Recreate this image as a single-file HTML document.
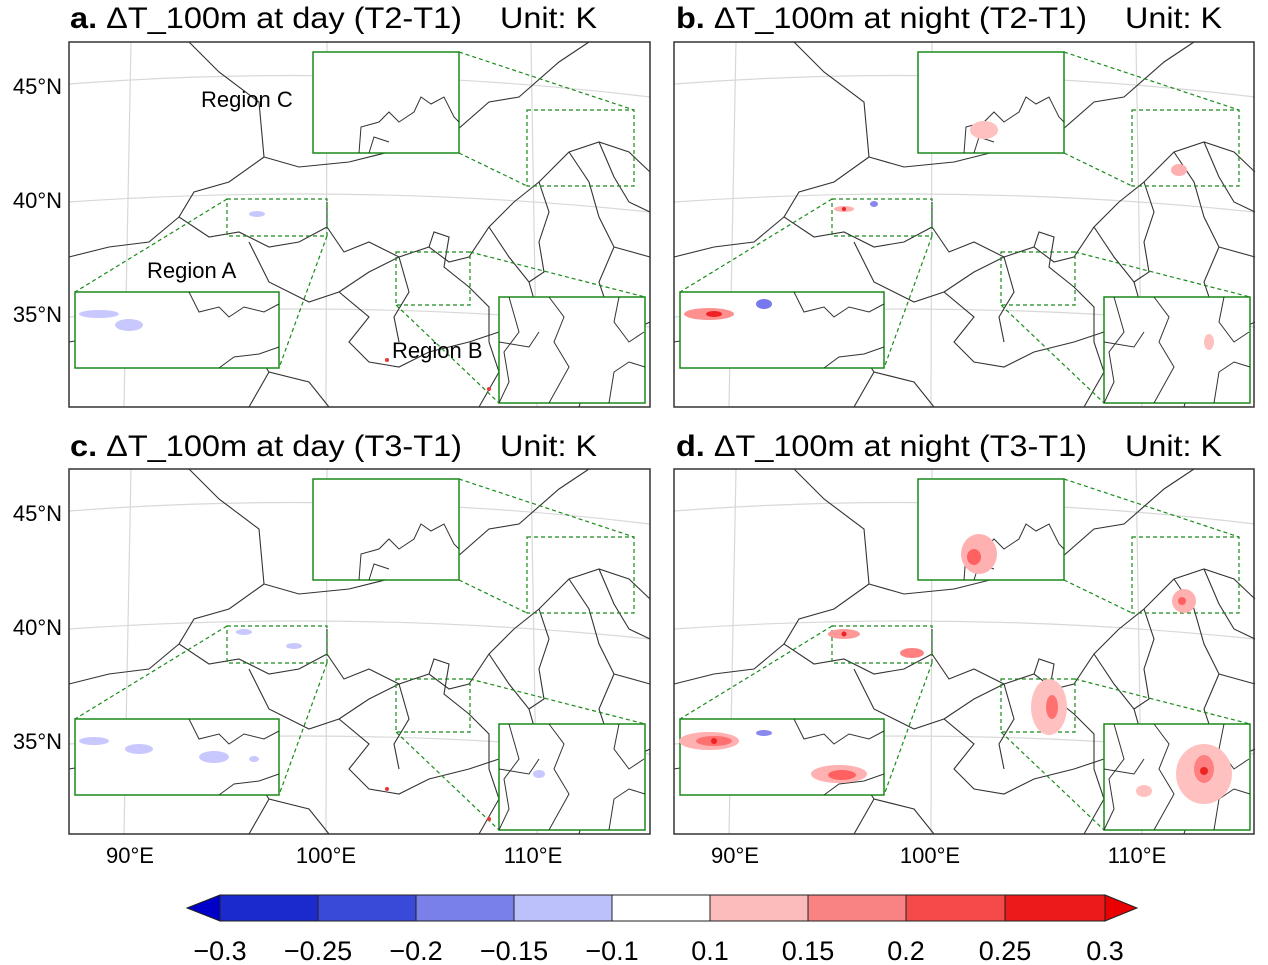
<!DOCTYPE html>
<html><head><meta charset="utf-8"><style>
html,body{margin:0;padding:0;background:#fff;}
svg{display:block;font-family:"Liberation Sans",sans-serif;}
</style></head><body>
<svg width="1268" height="965" viewBox="0 0 1268 965" xmlns="http://www.w3.org/2000/svg">
<defs>
<g id="base">
  <rect x="0" y="0" width="581" height="365" fill="#fff"/>
  <g fill="none" stroke="#d8d8d8" stroke-width="1.2">
    <path d="M0,42 Q290,20 581,55"/>
    <path d="M0,160 Q290,140 581,170"/>
    <path d="M0,275 Q290,255 581,285"/>
    <path d="M62,0 L55,365"/><path d="M258,0 L257,365"/><path d="M462,0 L468,365"/>
  </g>
  <g fill="none" stroke="#333" stroke-width="1.1">
    <path d="M120,0 L150,30 L190,60 L195,115 L230,125 L280,120 L340,105 L380,95 L420,60 L450,55 L490,20 L520,0"/>
    <path d="M195,115 L160,140 L125,150 L110,175 L140,195 L170,190 L200,205 L230,200 L258,185 L258,160"/>
    <path d="M0,215 L40,205 L80,200 L110,175"/>
    <path d="M258,185 L275,210 L300,200 L330,215 L360,205 L380,220 L400,215 L420,185 L445,160 L470,140 L500,110 L530,100 L560,110 L581,130"/>
    <path d="M180,200 L200,240 L240,260 L270,250 L300,275 L280,300 L300,320 L330,325 L360,310 L400,300 L430,290"/>
    <path d="M270,250 L300,230 L330,215"/>
    <path d="M330,215 L340,250 L325,275 L330,300"/>
    <path d="M360,205 L365,190 L380,195 L375,225 L400,245 L420,265 L420,300 L430,330 L410,365"/>
    <path d="M420,185 L440,215 L460,240 L470,275 L500,300 L520,330 L510,365"/>
    <path d="M470,140 L480,170 L470,200 L475,230 L460,240"/>
    <path d="M500,110 L520,140 L530,175 L545,205 L530,240 L540,270 L560,290 L581,280"/>
    <path d="M530,100 L545,135 L560,160 L581,170"/>
    <path d="M545,205 L581,215"/>
    <path d="M150,280 L180,300 L200,330 L240,340 L260,365"/>
    <path d="M0,300 L60,290 L100,310 L150,280"/>
    <path d="M200,330 L180,365"/>
  </g>
  <g fill="none" stroke="#1a8a1a" stroke-width="1.2" stroke-dasharray="4,3">
    <rect x="458" y="68" width="107" height="76"/>
    <rect x="158" y="157" width="100" height="37"/>
    <rect x="327" y="210" width="74" height="53"/>
    <path d="M390,10 L565,68"/><path d="M390,111 L458,144"/>
    <path d="M158,157 L6,250"/><path d="M258,194 L210,326"/>
    <path d="M401,210 L576,255"/><path d="M327,263 L430,361"/>
  </g>
  <g fill="#fff" stroke="#1a8a1a" stroke-width="1.5">
    <rect x="244" y="10" width="146" height="101"/>
    <rect x="6" y="250" width="204" height="76"/>
    <rect x="430" y="255" width="146" height="106"/>
  </g>
  <g fill="none" stroke="#333" stroke-width="1">
    <path d="M290,111 L292,85 L310,80 L320,70 L330,80 L345,70 L352,55 L362,62 L375,55 L385,75 L390,80"/>
    <path d="M300,111 L305,95 L320,100"/>
    <path d="M120,250 L130,270 L150,265 L160,275 L175,265 L195,270 L210,262"/>
    <path d="M150,326 L165,315 L190,312 L210,305"/>
    <path d="M440,255 L450,290 L435,310 L440,340 L430,361"/>
    <path d="M480,255 L495,275 L485,300 L500,325 L480,361"/>
    <path d="M550,255 L545,280 L560,300 L575,290 M540,361 L545,330 L560,320 L576,325"/>
    <path d="M430,300 L460,305 L470,290"/>
  </g>
</g>
</defs>
<style>.t{font-size:30px;fill:#000}.l{font-size:22px;fill:#000}</style>

<g transform="translate(69,42)"><use href="#base"/>
  <ellipse cx="188" cy="172" rx="8" ry="3" fill="#c8c8ff"/>
  <ellipse cx="30" cy="272" rx="20" ry="4" fill="#c8c8ff"/>
  <ellipse cx="60" cy="283" rx="14" ry="6" fill="#c8c8ff"/>
  <circle cx="318" cy="318" r="2" fill="#e33"/><circle cx="420" cy="347" r="2" fill="#e33"/>
  <text x="132" y="65" class="l">Region C</text>
  <text x="78" y="236" class="l">Region A</text>
  <text x="323" y="316" class="l">Region B</text>
</g>
<rect x="69" y="42" width="581" height="365" fill="none" stroke="#333" stroke-width="1.5"/>

<g transform="translate(674,42)"><use href="#base"/>
  <ellipse cx="170" cy="167" rx="10" ry="3" fill="#ffb0b0"/><circle cx="170" cy="167" r="2" fill="#e22"/>
  <ellipse cx="200" cy="162" rx="4" ry="3" fill="#8888ee"/>
  <ellipse cx="35" cy="272" rx="25" ry="6" fill="#ff9090"/><ellipse cx="40" cy="272" rx="8" ry="3" fill="#e22"/>
  <ellipse cx="90" cy="262" rx="8" ry="5" fill="#7777ee"/>
  <ellipse cx="310" cy="88" rx="14" ry="9" fill="#ffc0c0"/>
  <ellipse cx="505" cy="128" rx="8" ry="6" fill="#ffb0b0"/>
  <ellipse cx="535" cy="300" rx="5" ry="8" fill="#ffc0c0"/>
</g>
<rect x="674" y="42" width="580" height="365" fill="none" stroke="#333" stroke-width="1.5"/>

<g transform="translate(69,469)"><use href="#base"/>
  <ellipse cx="175" cy="163" rx="8" ry="3" fill="#c8c8ff"/><ellipse cx="225" cy="177" rx="8" ry="3" fill="#c8c8ff"/>
  <ellipse cx="25" cy="272" rx="15" ry="4" fill="#c8c8ff"/><ellipse cx="70" cy="280" rx="14" ry="5" fill="#c8c8ff"/>
  <ellipse cx="145" cy="288" rx="15" ry="6" fill="#c8c8ff"/><ellipse cx="185" cy="290" rx="5" ry="3" fill="#c8c8ff"/>
  <ellipse cx="470" cy="305" rx="6" ry="4" fill="#c8c8ff"/>
  <circle cx="318" cy="320" r="2" fill="#e33"/><circle cx="420" cy="350" r="2" fill="#e33"/>
</g>
<rect x="69" y="469" width="581" height="365" fill="none" stroke="#333" stroke-width="1.5"/>

<g transform="translate(674,469)"><use href="#base"/>
  <ellipse cx="170" cy="165" rx="16" ry="5" fill="#ff9999"/><circle cx="170" cy="165" r="2.5" fill="#e22"/>
  <ellipse cx="238" cy="184" rx="12" ry="5" fill="#ff8080"/>
  <ellipse cx="375" cy="238" rx="18" ry="28" fill="#ffc0c0"/><ellipse cx="378" cy="238" rx="6" ry="12" fill="#ff7070"/>
  <ellipse cx="35" cy="272" rx="30" ry="9" fill="#ffb0b0"/><ellipse cx="40" cy="272" rx="18" ry="5" fill="#ff7070"/><circle cx="40" cy="272" r="3" fill="#e22"/>
  <ellipse cx="165" cy="305" rx="28" ry="9" fill="#ffb0b0"/><ellipse cx="168" cy="306" rx="14" ry="5" fill="#ff6060"/>
  <ellipse cx="90" cy="264" rx="8" ry="3" fill="#8888ee"/>
  <ellipse cx="305" cy="85" rx="18" ry="20" fill="#ffb0b0"/><ellipse cx="300" cy="88" rx="7" ry="8" fill="#ff6060"/>
  <ellipse cx="510" cy="132" rx="12" ry="12" fill="#ffb0b0"/><circle cx="508" cy="132" r="4" fill="#ff6060"/>
  <ellipse cx="530" cy="305" rx="28" ry="30" fill="#ffc0c0"/><ellipse cx="530" cy="300" rx="10" ry="14" fill="#ff8080"/><circle cx="530" cy="302" r="4" fill="#e22"/>
  <ellipse cx="470" cy="322" rx="8" ry="6" fill="#ffc0c0"/>
</g>
<rect x="674" y="469" width="580" height="365" fill="none" stroke="#333" stroke-width="1.5"/>

<text x="70" y="28" class="t" textLength="392" lengthAdjust="spacingAndGlyphs"><tspan font-weight="bold">a.</tspan> ΔT_100m at day (T2-T1)</text><text x="500" y="28" class="t" textLength="97" lengthAdjust="spacingAndGlyphs">Unit: K</text>
<text x="676" y="28" class="t" textLength="411" lengthAdjust="spacingAndGlyphs"><tspan font-weight="bold">b.</tspan> ΔT_100m at night (T2-T1)</text><text x="1125" y="28" class="t" textLength="97" lengthAdjust="spacingAndGlyphs">Unit: K</text>
<text x="70" y="456" class="t" textLength="392" lengthAdjust="spacingAndGlyphs"><tspan font-weight="bold">c.</tspan> ΔT_100m at day (T3-T1)</text><text x="500" y="456" class="t" textLength="97" lengthAdjust="spacingAndGlyphs">Unit: K</text>
<text x="676" y="456" class="t" textLength="411" lengthAdjust="spacingAndGlyphs"><tspan font-weight="bold">d.</tspan> ΔT_100m at night (T3-T1)</text><text x="1125" y="456" class="t" textLength="97" lengthAdjust="spacingAndGlyphs">Unit: K</text>

<g class="l" text-anchor="end">
<text x="62" y="94">45°N</text><text x="62" y="208">40°N</text><text x="62" y="322">35°N</text>
<text x="62" y="521">45°N</text><text x="62" y="635">40°N</text><text x="62" y="749">35°N</text>
</g>
<g class="l" text-anchor="middle">
<text x="130" y="863">90°E</text><text x="326" y="863">100°E</text><text x="533" y="863">110°E</text>
<text x="735" y="863">90°E</text><text x="930" y="863">100°E</text><text x="1137" y="863">110°E</text>
</g>

<g stroke="#222" stroke-width="1">
<polygon points="187,908 220,895 220,921" fill="#0000c8"/>
<rect x="220" y="895" width="98" height="26" fill="#1a2acc"/>
<rect x="318" y="895" width="98" height="26" fill="#3a4ad8"/>
<rect x="416" y="895" width="98" height="26" fill="#7a80ea"/>
<rect x="514" y="895" width="98" height="26" fill="#bcc0fb"/>
<rect x="612" y="895" width="98" height="26" fill="#ffffff"/>
<rect x="710" y="895" width="98" height="26" fill="#fcbcbc"/>
<rect x="808" y="895" width="98" height="26" fill="#f98282"/>
<rect x="906" y="895" width="99" height="26" fill="#f44a4a"/>
<rect x="1005" y="895" width="100" height="26" fill="#ec1a1a"/>
<polygon points="1105,895 1137,908 1105,921" fill="#ea0000"/>
</g>
<g font-size="27" text-anchor="middle">
<text x="220" y="960">−0.3</text><text x="318" y="960">−0.25</text><text x="416" y="960">−0.2</text>
<text x="514" y="960">−0.15</text><text x="612" y="960">−0.1</text><text x="710" y="960">0.1</text>
<text x="808" y="960">0.15</text><text x="906" y="960">0.2</text><text x="1005" y="960">0.25</text><text x="1105" y="960">0.3</text>
</g>
</svg>
</body></html>
